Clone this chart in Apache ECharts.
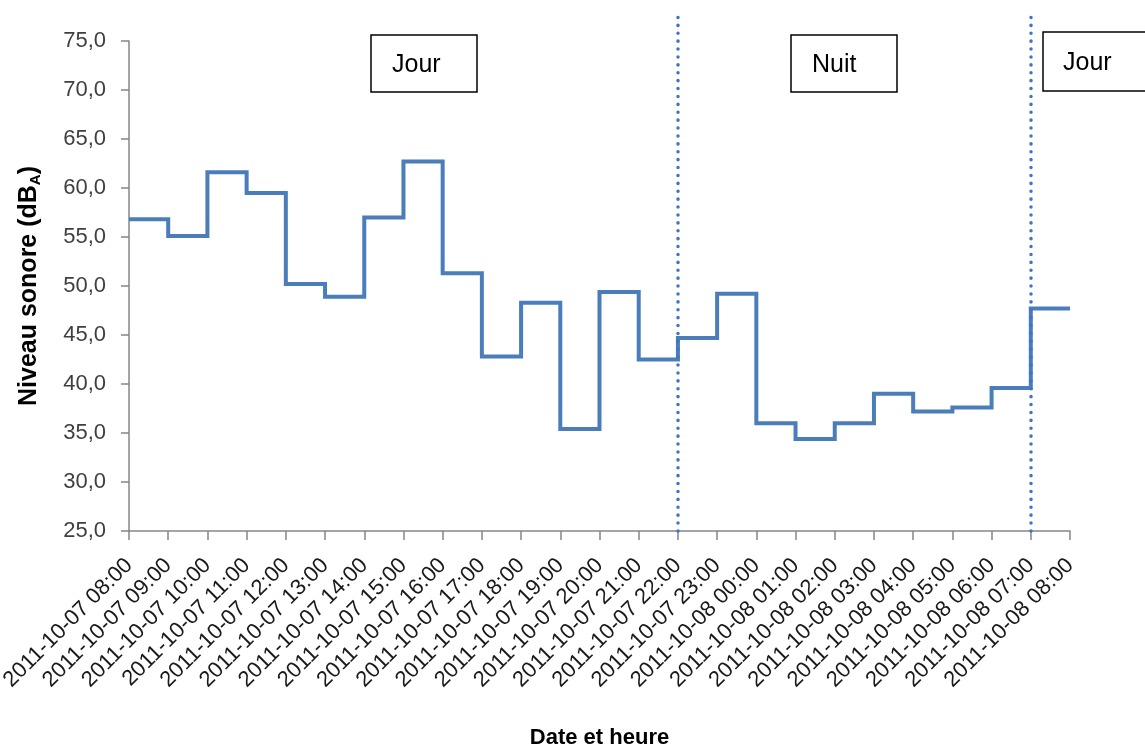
<!DOCTYPE html>
<html>
<head>
<meta charset="utf-8">
<script src="https://cdn.jsdelivr.net/npm/echarts@6/dist/echarts.min.js"></script>
<style>
html,body{margin:0;padding:0;background:#fff;}
#chart{width:1145px;height:750px;}
</style>
</head>
<body>
<div id="chart"></div>
<script>
const categories = [
  '2011-10-07 08:00','2011-10-07 09:00','2011-10-07 10:00','2011-10-07 11:00',
  '2011-10-07 12:00','2011-10-07 13:00','2011-10-07 14:00','2011-10-07 15:00',
  '2011-10-07 16:00','2011-10-07 17:00','2011-10-07 18:00','2011-10-07 19:00',
  '2011-10-07 20:00','2011-10-07 21:00','2011-10-07 22:00','2011-10-07 23:00',
  '2011-10-08 00:00','2011-10-08 01:00','2011-10-08 02:00','2011-10-08 03:00',
  '2011-10-08 04:00','2011-10-08 05:00','2011-10-08 06:00','2011-10-08 07:00',
  '2011-10-08 08:00'
];
const niveau = [
  56.8, 55.1, 61.6, 59.5, 50.2, 48.9, 57.0, 62.7,
  51.3, 42.8, 48.3, 35.4, 49.4, 42.5, 44.7, 49.2,
  36.0, 34.4, 36.0, 39.0, 37.2, 37.6, 39.6, 47.7,
  47.7
];
const periodBoundaries = ['2011-10-07 22:00', '2011-10-08 07:00'];
const periodLabels = ['Jour', 'Nuit', 'Jour'];
const yMin = 25, yMax = 75, yStep = 5;

const chart = echarts.init(document.getElementById('chart'), null, {renderer: 'canvas'});

const boxes = [
  {x: 371, y: 35, w: 106, h: 57, tx: 392},
  {x: 791, y: 35, w: 106, h: 57, tx: 812},
  {x: 1043, y: 32, w: 110, h: 59, tx: 1063}
];
const graphics = [];
boxes.forEach((b, i) => {
  graphics.push({
    type: 'rect', silent: true, z: 10,
    shape: {x: b.x, y: b.y, width: b.w, height: b.h},
    style: {fill: '#fff', stroke: '#000', lineWidth: 1.5}
  });
  graphics.push({
    type: 'text', silent: true, z: 11,
    style: {x: b.tx, y: b.y + b.h / 2 + 2, text: periodLabels[i], fill: '#000',
            font: '25px "Liberation Sans", Arial, sans-serif', verticalAlign: 'middle'}
  });
});

const labelFont = '"Liberation Sans", Arial, sans-serif';

chart.setOption({
  animation: false,
  grid: [
    {left: 129, right: 75, top: 41, bottom: 219, containLabel: false, outerBoundsMode: 'none'},
    {left: 129, right: 75, top: 10, bottom: 219, containLabel: false, outerBoundsMode: 'none'}
  ],
  xAxis: [{
    type: 'category',
    gridIndex: 0,
    data: categories,
    boundaryGap: false,
    name: 'Date et heure',
    nameLocation: 'middle',
    nameGap: 196,
    nameTextStyle: {fontFamily: labelFont, fontWeight: 'bold', fontSize: 22, color: '#000'},
    axisLine: {lineStyle: {color: '#868686', width: 1.5}},
    axisTick: {show: true, length: 9, interval: 0, lineStyle: {color: '#868686', width: 1.5}},
    axisLabel: {interval: 0, rotate: 45, margin: 31, fontSize: 22,
                fontFamily: labelFont, color: '#1a1a1a'},
    splitLine: {show: false}
  }, {
    type: 'category',
    gridIndex: 1,
    data: categories,
    boundaryGap: false,
    show: false
  }],
  yAxis: [{
    type: 'value',
    gridIndex: 0,
    min: yMin, max: yMax, interval: yStep,
    name: 'Niveau sonore (dB{sub|A})',
    nameLocation: 'middle',
    nameGap: 86,
    nameRotate: 90,
    nameTextStyle: {fontFamily: labelFont, fontWeight: 'bold', fontSize: 25, color: '#000',
                    rich: {sub: {fontSize: 15, fontWeight: 'bold', color: '#000',
                                 fontFamily: labelFont,
                                 verticalAlign: 'bottom', padding: [13, 0, 0, 0]}}},
    axisLine: {show: true, lineStyle: {color: '#868686', width: 1.5}},
    axisTick: {show: true, length: 8, lineStyle: {color: '#868686', width: 1.5}},
    axisLabel: {margin: 23, fontSize: 22, fontFamily: labelFont,
                color: '#404040', formatter: v => v.toFixed(1).replace('.', ',')},
    splitLine: {show: false}
  }, {
    type: 'value',
    gridIndex: 1,
    min: 0, max: 1,
    show: false
  }],
  series: [{
    type: 'line',
    xAxisIndex: 0, yAxisIndex: 0,
    data: niveau,
    step: 'end',
    showSymbol: false,
    symbol: 'none',
    z: 3,
    lineStyle: {color: '#4A7DBA', width: 4, join: 'miter'}
  }, {
    type: 'line',
    xAxisIndex: 1, yAxisIndex: 1,
    data: [],
    silent: true,
    z: 2,
    markLine: {
      silent: true,
      symbol: ['none', 'none'],
      label: {show: false},
      lineStyle: {color: '#4472C4', width: 3.5, type: [0.1, 7.8], cap: 'round'},
      data: periodBoundaries.map(c => ({xAxis: c}))
    }
  }],
  graphic: graphics
});
</script>
</body>
</html>
